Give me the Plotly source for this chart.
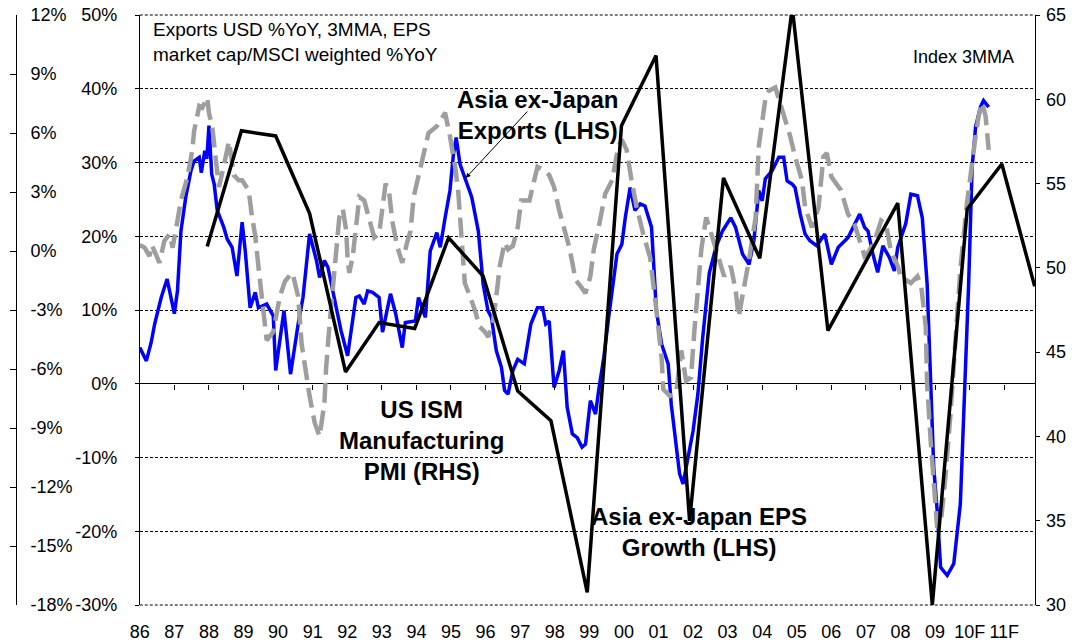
import plotly.graph_objects as go

# Asia ex-Japan exports, USD %YoY 3MMA (LHS)
exp_t = [1986.0, 1986.19, 1986.33, 1986.43, 1986.62, 1986.79, 1987.0, 1987.09, 1987.19, 1987.33,
         1987.48, 1987.57, 1987.72, 1987.78, 1987.88, 1987.94, 1988.0, 1988.08, 1988.15, 1988.24,
         1988.43, 1988.53, 1988.67, 1988.81, 1988.96, 1989.05, 1989.19, 1989.34, 1989.43, 1989.67,
         1989.86, 1989.93, 1990.17, 1990.36, 1990.58, 1990.72, 1990.91, 1991.11, 1991.2, 1991.34,
         1991.44, 1991.63, 1991.82, 1992.01, 1992.25, 1992.35, 1992.49, 1992.59, 1992.73, 1992.92,
         1993.02, 1993.25, 1993.4, 1993.59, 1993.68, 1993.97, 1994.06, 1994.26, 1994.4, 1994.59,
         1994.69, 1994.83, 1994.97, 1995.07, 1995.15, 1995.26, 1995.4, 1995.6, 1995.79, 1995.93,
         1996.07, 1996.17, 1996.31, 1996.46, 1996.55, 1996.65, 1996.79, 1996.93, 1997.12, 1997.31,
         1997.5, 1997.65, 1997.74, 1997.84, 1997.98, 1998.13, 1998.25, 1998.36, 1998.51, 1998.65,
         1998.79, 1998.89, 1999.03, 1999.18, 1999.27, 1999.42, 1999.56, 1999.7, 1999.8, 1999.94,
         2000.04, 2000.18, 2000.32, 2000.47, 2000.61, 2000.8, 2000.94, 2001.09, 2001.28, 2001.37,
         2001.51, 2001.61, 2001.71, 2001.85, 2002.0, 2002.14, 2002.28, 2002.47, 2002.66, 2002.85,
         2003.09, 2003.23, 2003.43, 2003.62, 2003.76, 2003.9, 2004.0, 2004.09, 2004.29, 2004.48,
         2004.62, 2004.72, 2004.86, 2004.95, 2005.1, 2005.24, 2005.38, 2005.58, 2005.81, 2006.0,
         2006.2, 2006.48, 2006.82, 2006.96, 2007.06, 2007.2, 2007.34, 2007.49, 2007.68, 2007.82,
         2007.92, 2008.15, 2008.3, 2008.49, 2008.63, 2008.77, 2008.87, 2008.96, 2009.06, 2009.16,
         2009.35, 2009.54, 2009.73, 2009.87, 2009.97, 2010.07, 2010.17, 2010.31, 2010.4, 2010.55]
exp_v = [4.9, 3.1, 5.6, 8.1, 11.7, 14.2, 9.5, 12.6, 20.7, 25.3,
         28.9, 30.2, 30.7, 28.6, 31.6, 30.5, 35.0, 28.4, 27.1, 23.5,
         21.2, 19.6, 18.5, 14.6, 21.9, 18.0, 10.3, 12.4, 10.3, 10.8,
         9.2, 1.8, 9.9, 1.3, 8.1, 11.7, 20.3, 16.7, 14.4, 16.7,
         15.8, 11.3, 7.2, 3.8, 11.7, 11.9, 10.8, 12.6, 12.4, 11.7,
         7.0, 12.2, 9.5, 4.9, 8.3, 8.5, 11.7, 9.0, 18.0, 20.5,
         18.5, 22.5, 26.2, 31.1, 33.4, 29.8, 27.8, 25.3, 20.7, 13.5,
         9.9, 9.0, 4.5, 2.2, -0.9, -1.4, 1.8, 3.3, 2.7, 8.1,
         10.3, 10.3, 8.1, 8.5, -0.5, 1.8, 4.5, -3.2, -6.8, -7.3,
         -8.6, -8.2, -2.3, -4.1, -0.9, 3.6, 9.0, 14.4, 17.6, 18.9,
         22.5, 26.6, 23.5, 24.4, 24.1, 21.2, 9.9, 5.4, 2.7, -2.8,
         -8.2, -12.2, -13.6, -10.0, -6.4, -1.4, 6.3, 15.0, 18.5, 20.7,
         22.5, 21.2, 17.6, 16.2, 19.4, 26.2, 24.8, 27.8, 28.9, 30.7,
         30.7, 27.5, 27.1, 26.6, 23.0, 20.3, 19.4, 18.7, 20.3, 16.2,
         18.5, 19.8, 23.0, 21.2, 20.7, 17.6, 15.1, 18.7, 17.1, 15.3,
         18.5, 21.7, 25.7, 25.5, 22.5, 13.5, 0.0, -11.3, -17.2, -24.9,
         -26.0, -24.4, -16.3, 0.0, 13.5, 29.3, 34.8, 37.5, 38.4, 37.5]

# Asia ex-Japan EPS growth (LHS)
eps_t = [1987.95, 1988.94, 1989.93, 1990.91, 1991.95, 1992.92, 1993.95, 1994.93, 1995.93, 1996.93,
         1997.89, 1998.94, 1999.93, 2000.93, 2001.9, 2002.88, 2003.93, 2004.87, 2005.9, 2007.92,
         2008.92, 2009.93, 2010.93, 2011.88]
eps_v = [18.6, 34.3, 33.6, 23.1, 1.6, 8.3, 7.5, 19.8, 14.6, -1.0,
         -5.0, -28.3, 35.0, 44.5, -18.6, 27.9, 17.0, 51.0, 7.2, 24.5,
         -30.0, 23.7, 29.8, 13.2]

# US ISM manufacturing PMI (RHS)
ism_t = [1986.0, 1986.14, 1986.28, 1986.35, 1986.57, 1986.71, 1986.86, 1986.95, 1987.09, 1987.19,
         1987.38, 1987.52, 1987.57, 1987.72, 1987.81, 1987.95, 1988.0, 1988.1, 1988.19, 1988.29,
         1988.38, 1988.48, 1988.58, 1988.72, 1988.86, 1988.96, 1989.15, 1989.24, 1989.34, 1989.43,
         1989.53, 1989.58, 1989.67, 1989.86, 1990.05, 1990.2, 1990.39, 1990.44, 1990.58, 1990.68,
         1990.82, 1990.91, 1991.06, 1991.2, 1991.34, 1991.39, 1991.49, 1991.58, 1991.68, 1991.77,
         1991.87, 1991.97, 1992.01, 1992.06, 1992.16, 1992.25, 1992.35, 1992.49, 1992.63, 1992.78,
         1992.92, 1993.02, 1993.11, 1993.21, 1993.3, 1993.44, 1993.59, 1993.73, 1993.83, 1993.92,
         1994.06, 1994.16, 1994.35, 1994.59, 1994.83, 1994.97, 1995.12, 1995.21, 1995.31, 1995.4,
         1995.55, 1995.69, 1995.83, 1995.98, 1996.08, 1996.22, 1996.31, 1996.41, 1996.55, 1996.65,
         1996.79, 1996.93, 1997.03, 1997.27, 1997.5, 1997.69, 1997.84, 1997.98, 1998.13, 1998.27,
         1998.41, 1998.51, 1998.6, 1998.75, 1998.89, 1999.03, 1999.13, 1999.27, 1999.37, 1999.46,
         1999.56, 1999.66, 1999.75, 1999.84, 1999.94, 2000.08, 2000.22, 2000.37, 2000.56, 2000.76,
         2000.94, 2001.09, 2001.14, 2001.33, 2001.51, 2001.66, 2001.8, 2001.94, 2002.04, 2002.14,
         2002.24, 2002.38, 2002.47, 2002.57, 2002.76, 2002.9, 2003.09, 2003.23, 2003.32, 2003.43,
         2003.62, 2003.81, 2003.9, 2004.09, 2004.19, 2004.38, 2004.57, 2004.67, 2004.81, 2004.95,
         2005.15, 2005.24, 2005.44, 2005.63, 2005.77, 2005.87, 2006.0, 2006.14, 2006.28, 2006.48,
         2006.67, 2006.82, 2006.96, 2007.06, 2007.25, 2007.44, 2007.58, 2007.72, 2007.92, 2008.0,
         2008.3, 2008.49, 2008.6, 2008.73, 2008.77, 2008.87, 2008.96, 2009.06, 2009.16, 2009.3,
         2009.44, 2009.58, 2009.73, 2009.92, 2010.07, 2010.17, 2010.26, 2010.36, 2010.46, 2010.55]
ism_v = [51.35, 51.2, 50.7, 51.35, 50.3, 51.6, 52.0, 51.2, 52.8, 54.0,
         55.4, 57.0, 58.1, 59.6, 59.5, 60.1, 59.2, 58.3, 56.6, 54.8,
         55.6, 56.6, 57.5, 55.5, 55.2, 55.2, 54.6, 53.1, 51.9, 50.1,
         48.1, 47.1, 45.7, 46.2, 48.3, 49.2, 49.7, 49.5, 48.3, 45.5,
         43.5, 42.4, 40.8, 40.0, 42.0, 44.1, 46.7, 48.7, 51.1, 53.0,
         53.5, 52.2, 50.5, 49.7, 50.7, 52.4, 54.2, 54.0, 53.0, 51.8,
         52.0, 53.8, 55.0, 54.5, 52.8, 51.3, 50.3, 51.5, 52.2, 54.2,
         55.4, 56.2, 58.0, 58.4, 59.2, 57.8, 56.0, 54.5, 51.1, 49.1,
         48.3, 47.5, 46.5, 46.2, 45.9, 46.9, 48.3, 50.1, 51.5, 51.1,
         51.3, 52.4, 54.0, 54.0, 56.0, 55.8, 55.5, 54.8, 53.4, 52.4,
         51.3, 50.3, 49.3, 48.9, 48.5, 49.5, 51.1, 52.4, 53.4, 54.4,
         54.8, 55.2, 56.2, 57.2, 57.6, 57.0, 55.2, 53.6, 52.0, 50.6,
         47.5, 44.7, 42.8, 42.4, 42.6, 45.1, 43.3, 43.5, 46.3, 49.1,
         51.1, 53.0, 52.4, 51.6, 50.3, 49.5, 50.1, 48.7, 47.1, 48.3,
         50.5, 53.0, 57.2, 60.0, 60.5, 60.7, 59.4, 58.8, 57.8, 56.6,
         55.2, 53.6, 52.4, 53.6, 56.6, 56.8, 55.4, 55.0, 54.6, 53.2,
         52.6, 51.6, 50.7, 50.9, 51.6, 52.8, 52.6, 51.0, 50.1, 49.5,
         49.1, 49.5, 48.9, 46.5, 43.1, 39.8, 37.2, 34.6, 34.8, 37.6,
         41.2, 45.9, 49.9, 53.8, 56.4, 57.8, 59.0, 59.8, 59.0, 57.0]

year_ticks = list(range(1986, 2012))
year_labels = ['86', '87', '88', '89', '90', '91', '92', '93', '94', '95', '96', '97', '98',
               '99', '00', '01', '02', '03', '04', '05', '06', '07', '08', '09', '10F', '11F']

lhs_ticks = [-30, -20, -10, 0, 10, 20, 30, 40, 50]
lhs_labels = ['-30%', '-20%', '-10%', '0%', '10%', '20%', '30%', '40%', '50%']
far_ticks = [-18, -15, -12, -9, -6, -3, 0, 3, 6, 9, 12]
far_labels = ['-18%', '-15%', '-12%', '-9%', '-6%', '-3%', '0%', '3%', '6%', '9%', '12%']

W, H = 1076, 642

def px(v):
    return v / W

def py(v):
    # plot area runs from y=15 to y=605
    return (605 - v) / 590

x0, x1 = px(131), px(1035)

fig = go.Figure()

fig.add_trace(go.Scatter(x=ism_t, y=ism_v, yaxis='y2', mode='lines',
                         line=dict(color='#9e9e9e', width=4.5, dash='20px,8px')))
fig.add_trace(go.Scatter(x=exp_t, y=exp_v, mode='lines',
                         line=dict(color='#0000ff', width=3.5)))
# EPS on the overlay x axis that carries the tick marks on the 0% line
fig.add_trace(go.Scatter(x=eps_t, y=eps_v, xaxis='x2', mode='lines',
                         line=dict(color='black', width=3.5)))
# empty trace so the cut-off far-left axis gets drawn
fig.add_trace(go.Scatter(x=[], y=[], yaxis='y3', mode='lines', hoverinfo='skip'))

rng = [1986.0, 2011.9]

fig.update_layout(
    width=W, height=H,
    margin=dict(l=0, r=0, t=15, b=H - 605),
    plot_bgcolor='white', paper_bgcolor='white',
    showlegend=False,
    font=dict(family='Liberation Sans, Arial', size=18, color='black'),
    xaxis=dict(domain=[x0, x1], range=rng, tickvals=year_ticks, ticktext=year_labels,
               ticks='', showgrid=False, zeroline=False, showline=False,
               ticklabelstandoff=14, ticklabeloverflow='allow'),
    xaxis2=dict(overlaying='x', anchor='free', position=0.375, range=rng,
                tickvals=year_ticks, ticks='outside', ticklen=5, tickcolor='black',
                showticklabels=False, showgrid=False, zeroline=False, showline=False),
    yaxis=dict(range=[-30, 50], tickvals=lhs_ticks, ticktext=lhs_labels,
               ticks='outside', ticklen=4, tickcolor='black',
               showline=True, linecolor='black', linewidth=1,
               showgrid=True, gridcolor='black', gridwidth=1, griddash='3px,2px',
               zeroline=True, zerolinecolor='black', zerolinewidth=1,
               ticklabelstandoff=14, ticklabeloverflow='allow'),
    yaxis2=dict(overlaying='y', side='right', anchor='x', range=[30, 65], dtick=5,
                ticks='outside', ticklen=4, tickcolor='black',
                showline=True, linecolor='black', linewidth=1,
                showgrid=False, zeroline=False, ticklabelstandoff=2,
                ticklabeloverflow='allow'),
    # cut-off axis from the neighbouring chart on the far left
    yaxis3=dict(overlaying='y', anchor='free', position=px(6), side='right',
                range=[-18, 12], tickvals=far_ticks, ticktext=far_labels,
                ticks='inside', ticklen=6, tickcolor='black',
                showline=True, linecolor='black', linewidth=1,
                showgrid=False, zeroline=False, ticklabelstandoff=10,
                ticklabeloverflow='allow'),
)

# dashed top / bottom borders
for yy in [0, 1]:
    fig.add_shape(type='line', xref='paper', yref='paper', x0=x0, x1=x1, y0=yy, y1=yy,
                  line=dict(color='black', width=1, dash='3px,2px'))

fig.add_annotation(xref='paper', yref='paper', x=px(142), y=py(17), xanchor='left', yanchor='top',
                   align='left', showarrow=False, font=dict(size=19),
                   text='Exports USD %YoY, 3MMA, EPS<br>market cap/MSCI weighted %YoY')
fig.add_annotation(xref='paper', yref='paper', x=px(1015), y=py(45), xanchor='right',
                   showarrow=False, text='Index 3MMA')
fig.add_annotation(xref='paper', yref='paper', x=px(532), y=py(84), showarrow=False,
                   text='<b>Asia ex-Japan<br>Exports (LHS)</b>', font=dict(size=24))
fig.add_annotation(xref='paper', yref='paper', x=px(460), y=py(178), text='',
                   showarrow=True, arrowhead=2, arrowsize=1, arrowwidth=1, arrowcolor='black',
                   ax=63, ay=-68)
fig.add_annotation(xref='paper', yref='paper', x=px(330), y=py(487), showarrow=False,
                   text='<b>US ISM<br>Manufacturing<br>PMI (RHS)</b>', font=dict(size=24))
fig.add_annotation(xref='paper', yref='paper', x=px(695), y=py(563), showarrow=False,
                   text='<b>Asia ex-Japan EPS<br>Growth (LHS)</b>', font=dict(size=24))

# drop the default 8px page margin so the figure sits at the window's corner
fig.write_html('out.html', config={'displayModeBar': False},
               post_script="document.body.style.margin='0';document.body.style.overflow='hidden';")
